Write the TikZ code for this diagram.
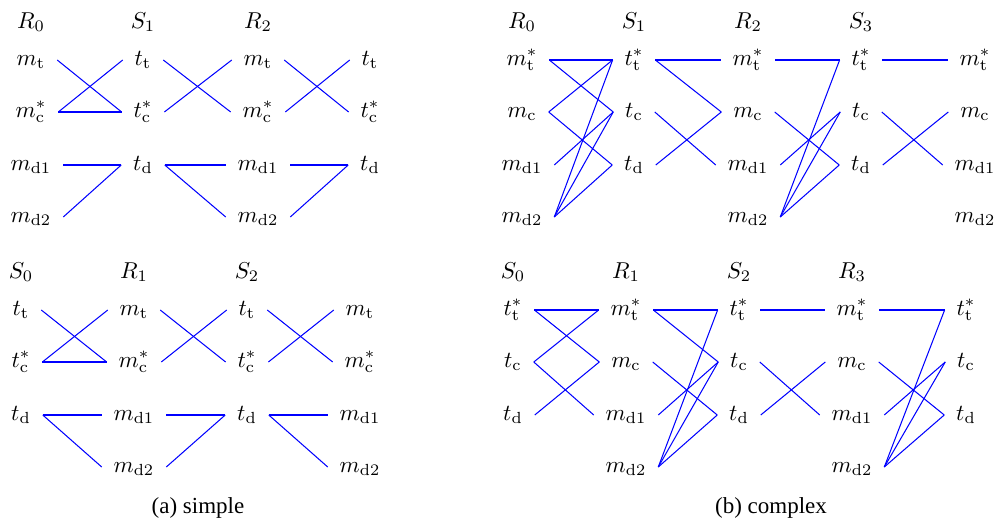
\documentclass[tikz,border=0pt]{standalone}
\usepackage[no-math]{fontspec}
\setmainfont{Liberation Serif}
\usepackage{amsmath}
\usepackage{tikz}
\usetikzlibrary{positioning}

\begin{document}
\begin{tikzpicture}[
  x=0.435pt,y=-0.435pt,
  lab/.style={inner xsep=5pt,inner ysep=1pt,text height=1.5ex,text depth=0.5ex},
  hdr/.style={inner sep=1pt},
  wire/.style={draw=blue,line width=0.45pt}
]
\useasboundingbox (0,0) rectangle (1000,523);

% (a) simple, upper row
\node[hdr] (aR0) at (31,22) {$R_0$};
\node[hdr] (aS1) at (143,22) {$S_1$};
\node[hdr] (aR2) at (258,22) {$R_2$};
\node[lab] (aR0t) at (31,60) {$m_{\mathrm{t}}$};
\node[lab] (aR0c) at (31,112) {$m_{\mathrm{c}}^*$};
\node[lab] (aR0d1) at (31,165) {$m_{\mathrm{d1}}$};
\node[lab] (aR0d2) at (31,217) {$m_{\mathrm{d2}}$};
\node[lab] (aS1t) at (143,60) {$t_{\mathrm{t}}$};
\node[lab] (aS1c) at (143,112) {$t_{\mathrm{c}}^*$};
\node[lab] (aS1d) at (143,165) {$t_{\mathrm{d}}$};
\node[lab] (aR2t) at (258,60) {$m_{\mathrm{t}}$};
\node[lab] (aR2c) at (258,112) {$m_{\mathrm{c}}^*$};
\node[lab] (aR2d1) at (258,165) {$m_{\mathrm{d1}}$};
\node[lab] (aR2d2) at (258,217) {$m_{\mathrm{d2}}$};
\node[lab] (aS3t) at (370,60) {$t_{\mathrm{t}}$};
\node[lab] (aS3c) at (370,112) {$t_{\mathrm{c}}^*$};
\node[lab] (aS3d) at (370,165) {$t_{\mathrm{d}}$};
\draw[wire] (aR0t.east) -- (aS1c.west);
\draw[wire] (aR0c.east) -- (aS1t.west);
\draw[wire] (aR0c.east) -- (aS1c.west);
\draw[wire] (aR0d1.east) -- (aS1d.west);
\draw[wire] (aR0d2.east) -- (aS1d.west);
\draw[wire] (aS1t.east) -- (aR2c.west);
\draw[wire] (aS1c.east) -- (aR2t.west);
\draw[wire] (aS1d.east) -- (aR2d1.west);
\draw[wire] (aS1d.east) -- (aR2d2.west);
\draw[wire] (aR2t.east) -- (aS3c.west);
\draw[wire] (aR2c.east) -- (aS3t.west);
\draw[wire] (aR2d1.east) -- (aS3d.west);
\draw[wire] (aR2d2.east) -- (aS3d.west);

% (a) simple, lower row
\node[hdr] (aS0) at (21,272) {$S_0$};
\node[hdr] (aR1) at (134,272) {$R_1$};
\node[hdr] (aS2) at (247,272) {$S_2$};
\node[lab] (aS0t) at (21,310) {$t_{\mathrm{t}}$};
\node[lab] (aS0c) at (21,362) {$t_{\mathrm{c}}^*$};
\node[lab] (aS0d) at (21,415) {$t_{\mathrm{d}}$};
\node[lab] (aR1t) at (134,310) {$m_{\mathrm{t}}$};
\node[lab] (aR1c) at (134,362) {$m_{\mathrm{c}}^*$};
\node[lab] (aR1d1) at (134,415) {$m_{\mathrm{d1}}$};
\node[lab] (aR1d2) at (134,467) {$m_{\mathrm{d2}}$};
\node[lab] (aS2t) at (247,310) {$t_{\mathrm{t}}$};
\node[lab] (aS2c) at (247,362) {$t_{\mathrm{c}}^*$};
\node[lab] (aS2d) at (247,415) {$t_{\mathrm{d}}$};
\node[lab] (aR3t) at (360,310) {$m_{\mathrm{t}}$};
\node[lab] (aR3c) at (360,362) {$m_{\mathrm{c}}^*$};
\node[lab] (aR3d1) at (360,415) {$m_{\mathrm{d1}}$};
\node[lab] (aR3d2) at (360,467) {$m_{\mathrm{d2}}$};
\draw[wire] (aS0t.east) -- (aR1c.west);
\draw[wire] (aS0c.east) -- (aR1t.west);
\draw[wire] (aS0c.east) -- (aR1c.west);
\draw[wire] (aS0d.east) -- (aR1d1.west);
\draw[wire] (aS0d.east) -- (aR1d2.west);
\draw[wire] (aR1t.east) -- (aS2c.west);
\draw[wire] (aR1c.east) -- (aS2t.west);
\draw[wire] (aR1d1.east) -- (aS2d.west);
\draw[wire] (aR1d2.east) -- (aS2d.west);
\draw[wire] (aS2t.east) -- (aR3c.west);
\draw[wire] (aS2c.east) -- (aR3t.west);
\draw[wire] (aS2d.east) -- (aR3d1.west);
\draw[wire] (aS2d.east) -- (aR3d2.west);
\node (capa) at (198,508) {(a) simple};

% (b) complex, upper row
\node[hdr] (bR0) at (522,22) {$R_0$};
\node[hdr] (bS1) at (634,22) {$S_1$};
\node[hdr] (bR2) at (748,22) {$R_2$};
\node[hdr] (bS3) at (861,22) {$S_3$};
\node[lab] (bR0t) at (522,60) {$m_{\mathrm{t}}^*$};
\node[lab] (bR0c) at (522,112) {$m_{\mathrm{c}}$};
\node[lab] (bR0d1) at (522,165) {$m_{\mathrm{d1}}$};
\node[lab] (bR0d2) at (522,217) {$m_{\mathrm{d2}}$};
\node[lab] (bS1t) at (634,60) {$t_{\mathrm{t}}^*$};
\node[lab] (bS1c) at (634,112) {$t_{\mathrm{c}}$};
\node[lab] (bS1d) at (634,165) {$t_{\mathrm{d}}$};
\node[lab] (bR2t) at (748,60) {$m_{\mathrm{t}}^*$};
\node[lab] (bR2c) at (748,112) {$m_{\mathrm{c}}$};
\node[lab] (bR2d1) at (748,165) {$m_{\mathrm{d1}}$};
\node[lab] (bR2d2) at (748,217) {$m_{\mathrm{d2}}$};
\node[lab] (bS3t) at (861,60) {$t_{\mathrm{t}}^*$};
\node[lab] (bS3c) at (861,112) {$t_{\mathrm{c}}$};
\node[lab] (bS3d) at (861,165) {$t_{\mathrm{d}}$};
\node[lab] (bR4t) at (975,60) {$m_{\mathrm{t}}^*$};
\node[lab] (bR4c) at (975,112) {$m_{\mathrm{c}}$};
\node[lab] (bR4d1) at (975,165) {$m_{\mathrm{d1}}$};
\node[lab] (bR4d2) at (975,217) {$m_{\mathrm{d2}}$};
\draw[wire] (bR0t.east) -- (bS1t.west);
\draw[wire] (bR0t.east) -- (bS1c.west);
\draw[wire] (bR0c.east) -- (bS1t.west);
\draw[wire] (bR0c.east) -- (bS1d.west);
\draw[wire] (bR0d1.east) -- (bS1c.west);
\draw[wire] (bR0d2.east) -- (bS1t.west);
\draw[wire] (bR0d2.east) -- (bS1c.west);
\draw[wire] (bR0d2.east) -- (bS1d.west);
\draw[wire] (bS1t.east) -- (bR2t.west);
\draw[wire] (bS1t.east) -- (bR2c.west);
\draw[wire] (bS1c.east) -- (bR2d1.west);
\draw[wire] (bS1d.east) -- (bR2c.west);
\draw[wire] (bR2t.east) -- (bS3t.west);
\draw[wire] (bR2c.east) -- (bS3d.west);
\draw[wire] (bR2d1.east) -- (bS3c.west);
\draw[wire] (bR2d2.east) -- (bS3t.west);
\draw[wire] (bR2d2.east) -- (bS3c.west);
\draw[wire] (bR2d2.east) -- (bS3d.west);
\draw[wire] (bS3t.east) -- (bR4t.west);
\draw[wire] (bS3c.east) -- (bR4d1.west);
\draw[wire] (bS3d.east) -- (bR4c.west);

% (b) complex, lower row
\node[hdr] (bS0) at (513,272) {$S_0$};
\node[hdr] (bR1) at (626,272) {$R_1$};
\node[hdr] (bS2) at (739,272) {$S_2$};
\node[hdr] (bR3) at (852,272) {$R_3$};
\node[lab] (bS0t) at (513,310) {$t_{\mathrm{t}}^*$};
\node[lab] (bS0c) at (513,362) {$t_{\mathrm{c}}$};
\node[lab] (bS0d) at (513,415) {$t_{\mathrm{d}}$};
\node[lab] (bR1t) at (626,310) {$m_{\mathrm{t}}^*$};
\node[lab] (bR1c) at (626,362) {$m_{\mathrm{c}}$};
\node[lab] (bR1d1) at (626,415) {$m_{\mathrm{d1}}$};
\node[lab] (bR1d2) at (626,467) {$m_{\mathrm{d2}}$};
\node[lab] (bS2t) at (739,310) {$t_{\mathrm{t}}^*$};
\node[lab] (bS2c) at (739,362) {$t_{\mathrm{c}}$};
\node[lab] (bS2d) at (739,415) {$t_{\mathrm{d}}$};
\node[lab] (bR3t) at (852,310) {$m_{\mathrm{t}}^*$};
\node[lab] (bR3c) at (852,362) {$m_{\mathrm{c}}$};
\node[lab] (bR3d1) at (852,415) {$m_{\mathrm{d1}}$};
\node[lab] (bR3d2) at (852,467) {$m_{\mathrm{d2}}$};
\node[lab] (bS4t) at (966,310) {$t_{\mathrm{t}}^*$};
\node[lab] (bS4c) at (966,362) {$t_{\mathrm{c}}$};
\node[lab] (bS4d) at (966,415) {$t_{\mathrm{d}}$};
\draw[wire] (bS0t.east) -- (bR1t.west);
\draw[wire] (bS0t.east) -- (bR1c.west);
\draw[wire] (bS0c.east) -- (bR1t.west);
\draw[wire] (bS0c.east) -- (bR1d1.west);
\draw[wire] (bS0d.east) -- (bR1c.west);
\draw[wire] (bR1t.east) -- (bS2t.west);
\draw[wire] (bR1t.east) -- (bS2c.west);
\draw[wire] (bR1c.east) -- (bS2d.west);
\draw[wire] (bR1d1.east) -- (bS2c.west);
\draw[wire] (bR1d2.east) -- (bS2t.west);
\draw[wire] (bR1d2.east) -- (bS2c.west);
\draw[wire] (bR1d2.east) -- (bS2d.west);
\draw[wire] (bS2t.east) -- (bR3t.west);
\draw[wire] (bS2c.east) -- (bR3d1.west);
\draw[wire] (bS2d.east) -- (bR3c.west);
\draw[wire] (bR3t.east) -- (bS4t.west);
\draw[wire] (bR3c.east) -- (bS4d.west);
\draw[wire] (bR3d1.east) -- (bS4c.west);
\draw[wire] (bR3d2.east) -- (bS4t.west);
\draw[wire] (bR3d2.east) -- (bS4c.west);
\draw[wire] (bR3d2.east) -- (bS4d.west);
\node (capb) at (771,508) {(b) complex};
\end{tikzpicture}
\end{document}
